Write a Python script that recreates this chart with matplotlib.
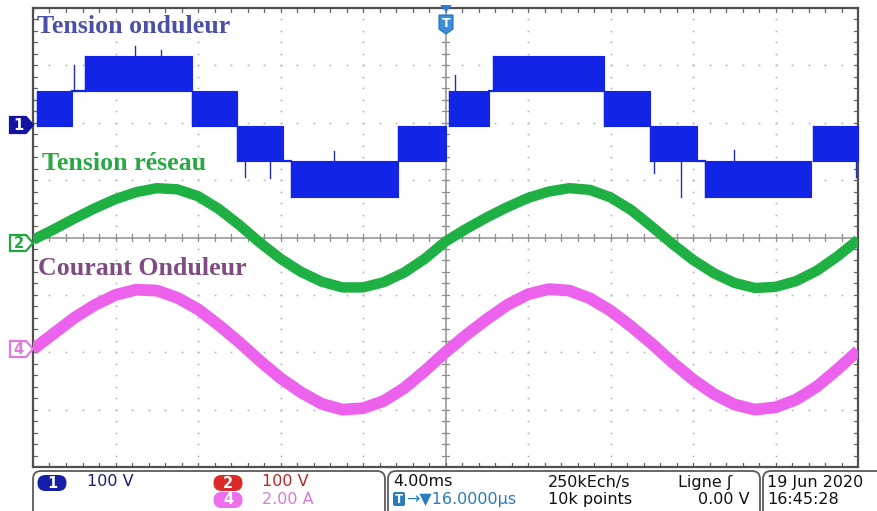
import matplotlib
matplotlib.use("Agg")
import matplotlib.pyplot as plt
from matplotlib.patches import Polygon, FancyBboxPatch
from matplotlib.transforms import Affine2D

# ---------------- data ----------------
# time base: 4 ms/div, 10 divisions -> 0..40 ms
time_ms = list(range(0, 41))

# CH2 grid voltage (V), 100 V/div
grid_voltage = [-4, 14, 33, 51, 67, 79, 86, 84, 72, 50, 22, -9, -37, -60, -77, -87, -87, -78, -61, -37, -7,
                15, 35, 53, 69, 80, 86, 83, 70, 48, 19, -11, -39, -62, -79, -88, -86, -76, -58, -33, -4]

# CH4 inverter current (A), 2.00 A/div
inverter_current = [0.0, 0.55, 1.10, 1.55, 1.90, 2.08, 2.05, 1.80, 1.40, 0.85, 0.25, -0.40, -1.00, -1.50,
                    -1.90, -2.10, -2.05, -1.80, -1.35, -0.75, -0.10,
                    0.50, 1.05, 1.55, 1.92, 2.10, 2.05, 1.78, 1.35, 0.80, 0.20, -0.45, -1.05, -1.55,
                    -1.92, -2.10, -2.02, -1.75, -1.30, -0.70, -0.05]

# CH1 inverter voltage (V), 100 V/div : PWM bands between two levels
inv_start = [0.2, 2.5, 7.7, 9.9, 12.5, 17.7, 20.15, 22.3, 27.7, 29.9, 32.6, 37.8]
inv_end = [1.9, 7.7, 9.9, 12.1, 17.7, 20.0, 22.1, 27.7, 29.9, 32.2, 37.7, 40.0]
inv_low = [0, 61, 0, -61, -124, -61, 0, 61, 0, -61, -124, -61]
inv_high = [61, 122, 61, 0, -61, 0, 61, 122, 61, 0, -61, 0]
# short constant parts
inv_flat_start = [1.9, 12.1, 22.1, 32.2]
inv_flat_end = [2.5, 12.5, 22.3, 32.6]
inv_flat_level = [61, -61, 61, -61]
# visible switching spikes
spike_t = [2.0, 4.95, 6.2, 10.3, 11.5, 14.6, 20.46, 30.1, 31.4, 34.0, 39.9]
spike_from = [61, 122, 122, -61, -61, -61, 61, -61, -61, -61, -61]
spike_to = [106, 138, 132, -90, -92, -45, 89, -82, -124, -42, -90]

# ---------------- figure ----------------
W, H = 878, 511
fig = plt.figure(figsize=(W / 100, H / 100), dpi=100)
fig.patch.set_facecolor("white")
PX = Affine2D().scale(1 / W, -1 / H).translate(0, 1) + fig.transFigure

rect = [33 / W, 1 - 467 / H, (858 - 33) / W, (467 - 8) / H]
ax = fig.add_axes(rect)
ax.set_xlim(0, 10)
ax.set_ylim(-4, 4)
ax.set_xticks([])
ax.set_yticks([])
for s in ax.spines.values():
    s.set_color("#505050")
    s.set_linewidth(1.6)

GRIDC = "#b4b4b4"
minors_x = [i * 0.2 for i in range(51)]
minors_y = [-4 + i * 0.2 for i in range(41)]
for k in range(1, 10):
    if k != 5:
        ax.plot([k] * len(minors_y), minors_y, ls="none", marker="s", ms=1.2, color=GRIDC, mew=0)
for k in range(-3, 4):
    if k != 0:
        ax.plot(minors_x, [k] * len(minors_x), ls="none", marker="s", ms=1.2, color=GRIDC, mew=0)
ax.axhline(0, color="#8f8f8f", lw=1.1)
ax.axvline(5, color="#8f8f8f", lw=1.1)
tk = dict(color="#8f8f8f", lw=0.9)
for xv in minors_x:
    ax.plot([xv, xv], [-0.06, 0.06], **tk)
    ax.plot([xv, xv], [4, 3.93], color="#666666", lw=0.9)
    ax.plot([xv, xv], [-4, -3.93], color="#666666", lw=0.9)
for yv in minors_y:
    ax.plot([4.96, 5.04], [yv, yv], **tk)
    ax.plot([0, 0.05], [yv, yv], color="#666666", lw=0.9)
    ax.plot([10, 9.95], [yv, yv], color="#666666", lw=0.9)


def chan_axes(lo, hi):
    a = fig.add_axes(rect, frameon=False)
    a.set_xlim(0, 40)
    a.set_ylim(lo, hi)
    a.set_axis_off()
    return a


ax1 = chan_axes((-4 - 1.95) * 100, (4 - 1.95) * 100)
ax2 = chan_axes(-400, 400)
ax4 = chan_axes((-4 + 1.95) * 2.0, (4 + 1.95) * 2.0)

BLUE = "#1224e6"
for s, e, lo, hi in zip(inv_start, inv_end, inv_low, inv_high):
    ax1.fill_between([s, e], lo, hi, color=BLUE, lw=0.8, edgecolor=BLUE)
for s, e, lv in zip(inv_flat_start, inv_flat_end, inv_flat_level):
    ax1.plot([s, e], [lv, lv], color=BLUE, lw=1.6)
for s, lo, hi in zip(inv_start, inv_low, inv_high):
    ax1.plot([s, s], [lo, hi], color=BLUE, lw=1.0)
for t, a, b in zip(spike_t, spike_from, spike_to):
    ax1.plot([t, t], [a, b], color="#2030b0", lw=1.0)

ax2.plot(time_ms, grid_voltage, color="#1fb043", lw=7.5, solid_capstyle="butt",
         solid_joinstyle="round")
ax4.plot(time_ms, inverter_current, color="#ec62ec", lw=8.5, solid_capstyle="butt",
         solid_joinstyle="round")

# trace labels
lab = dict(family="Liberation Serif", weight="bold", size=18.6, va="baseline", ha="left")
fig.text(37 / W, 1 - 33 / H, "Tension onduleur", color="#4b50a8", **lab)
fig.text(42 / W, 1 - 170 / H, "Tension réseau", color="#2aa845", **lab)
fig.text(38 / W, 1 - 275 / H, "Courant Onduleur", color="#7f4c82", **lab)

# channel markers
def marker(yc, face, edge, txt, tcol):
    pts = [(10, yc - 8), (26, yc - 8), (33, yc), (26, yc + 8), (10, yc + 8)]
    fig.patches.append(Polygon(pts, closed=True, transform=PX, facecolor=face,
                               edgecolor=edge, lw=1.6))
    fig.text(18.5 / W, 1 - yc / H, txt, color=tcol, weight="bold", size=10.5,
             ha="center", va="center")


marker(125, "#1414a0", "#1414a0", "1", "white")
marker(243, "white", "#1fa83f", "2", "#1fa83f")
marker(349, "white", "#e07ae0", "4", "#e07ae0")

# trigger marker
fig.patches.append(Polygon([(440, 5), (452, 5), (446, 12)], closed=True, transform=PX,
                           facecolor="#2a7fd4", edgecolor="none"))
fig.patches.append(Polygon([(439, 15), (453, 15), (453, 29), (446, 34), (439, 29)], closed=True,
                           transform=PX, facecolor="#3b8fd8", edgecolor="#1f6fbf", lw=0.8))
fig.text(446 / W, 1 - 23 / H, "T", color="white", weight="bold", size=9, ha="center", va="center")

# status bar boxes
for x0, x1 in [(33, 385), (388, 760), (763, 905)]:
    fig.patches.append(FancyBboxPatch((x0, 471), x1 - x0, 60,
                                      boxstyle="round,pad=0,rounding_size=8", transform=PX,
                                      facecolor="white", edgecolor="#5a5a5a", lw=1.3))


def badge(xc, yc, col, txt):
    w, h = 29, 16
    fig.patches.append(FancyBboxPatch((xc - w / 2, yc - h / 2), w, h,
                                      boxstyle=f"round,pad=0,rounding_size={h / 2}",
                                      transform=PX, facecolor=col, edgecolor="none"))
    fig.text(xc / W, 1 - yc / H, txt, color="white", weight="bold", size=10.5,
             ha="center", va="center")


badge(52, 483, "#141ea8", "1")
badge(228, 483, "#dc2a2a", "2")
badge(228, 500, "#ec70ec", "4")

st = dict(size=11.5, va="center", ha="left")
fig.text(87 / W, 1 - 482 / H, "100 V", color="#1c1c78", **st)
fig.text(262 / W, 1 - 482 / H, "100 V", color="#b22a2a", **st)
fig.text(262 / W, 1 - 499 / H, "2.00 A", color="#d77ad7", **st)
fig.text(393 / W, 1 - 482 / H, "4.00ms", color="#111111", **st)
fig.patches.append(FancyBboxPatch((393, 492), 12, 14, boxstyle="round,pad=0,rounding_size=2",
                                  transform=PX, facecolor="#2a7cc0", edgecolor="none"))
fig.text(399 / W, 1 - 499 / H, "T", color="white", weight="bold", size=8.5, ha="center", va="center")
fig.text(406 / W, 1 - 499 / H, "→▼16.0000µs", color="#2a7cc0", **st)
fig.text(548 / W, 1 - 482 / H, "250kEch/s", color="#111111", **st)
fig.text(548 / W, 1 - 499 / H, "10k points", color="#111111", **st)
fig.text(678 / W, 1 - 482 / H, "Ligne ʃ", color="#111111", **st)
fig.text(750 / W, 1 - 499 / H, "0.00 V", color="#111111", size=11.5, va="center", ha="right")
fig.text(767 / W, 1 - 482 / H, "19 Jun 2020", color="#111111", **st)
fig.text(767 / W, 1 - 499 / H, "16:45:28", color="#111111", **st)

fig.savefig("out.png", dpi=100)
